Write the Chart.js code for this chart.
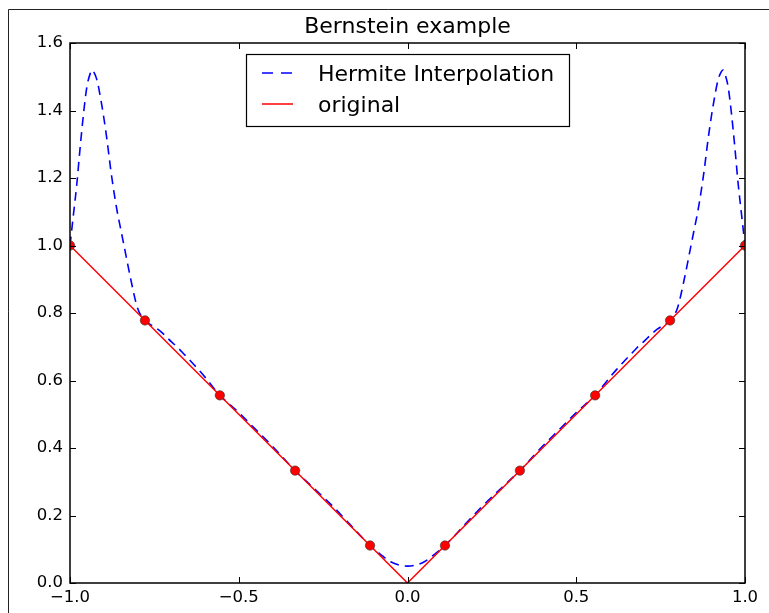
<!DOCTYPE html>
<html>
<head>
<meta charset="utf-8">
<script src="https://cdn.jsdelivr.net/npm/chart.js@4/dist/chart.umd.min.js"></script>
<style>
  body { margin: 0; background: #fff; overflow: hidden; }
</style>
</head>
<body>
<canvas id="chart" width="769" height="613"></canvas>
<script>
// interpolation nodes (x, |x|)
const nodeX = [-1, -0.778, -0.556, -0.333, -0.111, 0.111, 0.333, 0.556, 0.778, 1];
const nodeY = [1, 0.778, 0.556, 0.333, 0.111, 0.111, 0.333, 0.556, 0.778, 1];

// original function |x|
const originalX = [-1, 0, 1];
const originalY = [1, 0, 1];

// hermite interpolant
const hermiteX = [
  -1, -0.99, -0.98, -0.97, -0.96, -0.95, -0.94, -0.935, -0.93, -0.92, -0.91, -0.90,
  -0.89, -0.88, -0.87, -0.86, -0.85, -0.84, -0.82, -0.80, -0.78, -0.76, -0.74, -0.72,
  -0.70, -0.68, -0.66, -0.64, -0.62, -0.60, -0.58, -0.556, -0.50, -0.45, -0.40, -0.333,
  -0.28, -0.22, -0.17, -0.111, -0.08, -0.05, -0.02, 0,
  0.02, 0.05, 0.08, 0.111, 0.17, 0.22, 0.28, 0.333, 0.40, 0.45, 0.50, 0.556,
  0.58, 0.60, 0.62, 0.64, 0.66, 0.68, 0.70, 0.72, 0.74, 0.76, 0.78, 0.80,
  0.82, 0.84, 0.85, 0.86, 0.87, 0.88, 0.89, 0.90, 0.91, 0.92, 0.93, 0.935,
  0.94, 0.95, 0.96, 0.97, 0.98, 0.99, 1
];
const hermiteY = [
  1.00, 1.09, 1.18, 1.29, 1.39, 1.47, 1.51, 1.52, 1.515, 1.49, 1.44, 1.38,
  1.31, 1.23, 1.16, 1.10, 1.05, 1.00, 0.90, 0.815, 0.78, 0.765, 0.752, 0.735,
  0.715, 0.697, 0.676, 0.655, 0.633, 0.610, 0.585, 0.556, 0.505, 0.455, 0.405, 0.333,
  0.283, 0.226, 0.173, 0.111, 0.085, 0.063, 0.052, 0.05,
  0.052, 0.063, 0.085, 0.111, 0.173, 0.226, 0.283, 0.333, 0.405, 0.455, 0.505, 0.556,
  0.585, 0.610, 0.633, 0.655, 0.676, 0.697, 0.715, 0.735, 0.752, 0.765, 0.78, 0.815,
  0.90, 1.00, 1.05, 1.10, 1.16, 1.23, 1.31, 1.38, 1.44, 1.49, 1.515, 1.52,
  1.51, 1.47, 1.39, 1.29, 1.18, 1.09, 1.00
];

const legendLabels = ['Hermite Interpolation', 'original'];
const titleText = 'Bernstein example';

const toPoints = (xs, ys) => xs.map((x, i) => ({ x: x, y: ys[i] }));
const fmt = (v) => v.toFixed(1).replace('-', '\u2212');
const FONT = 'DejaVu Sans';

// outer frame of the figure window
const windowFrame = {
  id: 'windowFrame',
  beforeDraw(chart) {
    const ctx = chart.ctx;
    ctx.save();
    ctx.strokeStyle = '#222';
    ctx.lineWidth = 1;
    ctx.beginPath();
    ctx.moveTo(8.5, chart.height);
    ctx.lineTo(8.5, 9.5);
    ctx.lineTo(chart.width, 9.5);
    ctx.stroke();
    ctx.restore();
  }
};

// box round the axes, inward ticks on all four sides, and the legend
const framePlugin = {
  id: 'framePlugin',
  afterDraw(chart) {
    const ctx = chart.ctx;
    const a = chart.chartArea;
    const xs = chart.scales.x;
    const ys = chart.scales.y;
    const len = 6;
    ctx.save();
    ctx.strokeStyle = '#000';
    ctx.lineWidth = 1;
    ctx.beginPath();
    xs.ticks.forEach((t) => {
      const px = Math.round(xs.getPixelForValue(t.value)) + 0.5;
      ctx.moveTo(px, a.bottom); ctx.lineTo(px, a.bottom - len);
      ctx.moveTo(px, a.top); ctx.lineTo(px, a.top + len);
    });
    ys.ticks.forEach((t) => {
      const py = Math.round(ys.getPixelForValue(t.value)) + 0.5;
      ctx.moveTo(a.left, py); ctx.lineTo(a.left + len, py);
      ctx.moveTo(a.right, py); ctx.lineTo(a.right - len, py);
    });
    ctx.stroke();
    ctx.lineWidth = 1.5;
    ctx.strokeRect(a.left, a.top, a.right - a.left, a.bottom - a.top);

    // legend
    const lx = a.left + 176, ly = a.top + 11, lw = 323, lh = 72;
    ctx.fillStyle = '#fff';
    ctx.fillRect(lx, ly, lw, lh);
    ctx.lineWidth = 1.2;
    ctx.strokeRect(lx + 0.5, ly + 0.5, lw, lh);
    const sets = [chart.data.datasets[0], chart.data.datasets[1]];
    sets.forEach((ds, i) => {
      const cy = ly + 19 + i * 31;
      ctx.strokeStyle = ds.borderColor;
      ctx.lineWidth = ds.borderWidth;
      ctx.setLineDash(ds.borderDash ? [11, 8] : []);
      ctx.beginPath();
      ctx.moveTo(lx + 16, cy);
      ctx.lineTo(lx + 47, cy);
      ctx.stroke();
      ctx.setLineDash([]);
      ctx.fillStyle = '#000';
      ctx.font = '22px "' + FONT + '"';
      ctx.textBaseline = 'alphabetic';
      ctx.textAlign = 'left';
      ctx.fillText(legendLabels[i], lx + 72, cy + 8);
    });
    ctx.restore();
  }
};

new Chart(document.getElementById('chart'), {
  type: 'scatter',
  data: {
    datasets: [
      {
        label: legendLabels[0],
        data: toPoints(hermiteX, hermiteY),
        showLine: true,
        borderColor: '#0000ff',
        borderWidth: 1.6,
        borderDash: [9, 6],
        pointRadius: 0,
        cubicInterpolationMode: 'monotone',
        clip: 0,
        order: 2
      },
      {
        label: legendLabels[1],
        data: toPoints(originalX, originalY),
        showLine: true,
        borderColor: '#ff0000',
        borderWidth: 1.5,
        pointRadius: 0,
        clip: 0,
        order: 1
      },
      {
        label: 'nodes',
        data: toPoints(nodeX, nodeY),
        showLine: false,
        backgroundColor: '#ff0000',
        borderColor: '#333',
        borderWidth: 0.6,
        pointRadius: 4.7,
        clip: 0,
        order: 0
      }
    ]
  },
  options: {
    responsive: false,
    animation: false,
    layout: { padding: { left: 0, right: 24, bottom: 0, top: 0 } },
    plugins: {
      legend: { display: false },
      tooltip: { enabled: false },
      title: {
        display: true,
        text: titleText,
        fullSize: false,
        color: '#000',
        font: { family: FONT, size: 22, weight: 'normal', lineHeight: 1.2 },
        padding: { top: 13.8, bottom: 2.8 }
      }
    },
    scales: {
      x: {
        type: 'linear',
        min: -1,
        max: 1,
        grid: { display: false, drawTicks: false },
        border: { display: false },
        ticks: {
          stepSize: 0.5,
          padding: 5,
          color: '#000',
          maxRotation: 0,
          font: { family: FONT, size: 16.5 },
          callback: (v) => fmt(v)
        },
        afterFit: (scale) => { scale.height = 30; }
      },
      y: {
        type: 'linear',
        min: 0,
        max: 1.6,
        grid: { display: false, drawTicks: false },
        border: { display: false },
        ticks: {
          stepSize: 0.2,
          padding: 7,
          color: '#000',
          font: { family: FONT, size: 16.5 },
          callback: (v) => fmt(v)
        },
        afterFit: (scale) => { scale.width = 70; }
      }
    }
  },
  plugins: [windowFrame, framePlugin]
});
</script>
</body>
</html>
